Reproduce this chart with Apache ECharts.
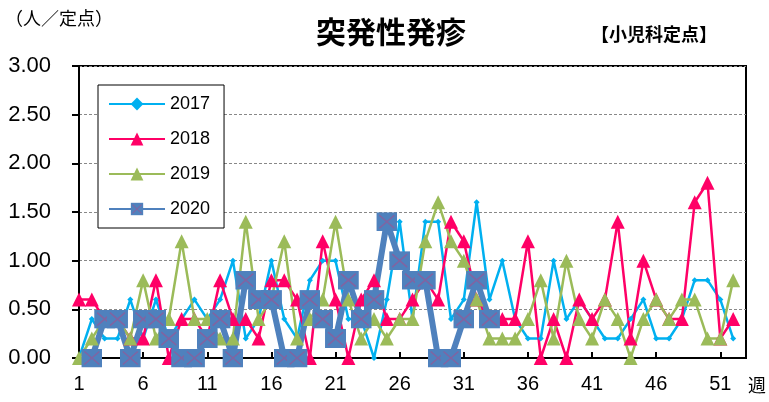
<!DOCTYPE html>
<html lang="ja">
<head>
    <meta charset="utf-8">
    <title>突発性発疹</title>
    <script src="https://cdn.jsdelivr.net/npm/echarts@6/dist/echarts.min.js"></script>
    <style>
        html, body { margin: 0; padding: 0; background: #fff; }
        #main { width: 769px; height: 402px; }
    </style>
</head>
<body>
<div id="main"></div>
<script>
    // 週（1〜53）
    var weeks = [];
    for (var i = 1; i <= 53; i++) weeks.push(String(i));

    var y2017 = [0, 0.4, 0.2, 0.2, 0.6, 0.2, 0.6, 0.2, 0.4, 0.6, 0.4, 0.6, 1.0, 0.2, 0.4, 1.0, 0.4, 0.2, 0.8, 1.0,
        1.0, 0.4, 0.4, 0, 0.6, 1.4, 0.4, 1.4, 1.4, 0.4, 0.6, 1.6, 0.6, 1.0, 0.4, 0.2, 0.2, 1.0, 0.4, 0.6,
        0.4, 0.2, 0.2, 0.4, 0.6, 0.2, 0.2, 0.4, 0.8, 0.8, 0.6, 0.2];
    var y2018 = [0.6, 0.6, 0.4, 0.4, 0.2, 0.2, 0.8, 0, 0.4, 0.4, 0.2, 0.8, 0.4, 0.4, 0.2, 0.8, 0.8, 0.6, 0, 1.2,
        0.6, 0, 0.6, 0.8, 0.4, 0.4, 0.6, 0.8, 0.6, 1.4, 1.2, 0.6, 0.4, 0.4, 0.4, 1.2, 0, 0.4, 0, 0.6,
        0.4, 0.6, 1.4, 0.2, 1.0, 0.6, 0.4, 0.4, 1.6, 1.8, 0.2, 0.4];
    var y2019 = [0, 0.2, 0.4, 0.4, 0.2, 0.8, 0.2, 0.4, 1.2, 0.4, 0.4, 0.2, 0.2, 1.4, 0.4, 0.6, 1.2, 0.2, 0.4, 0.6,
        1.4, 0.6, 0.2, 0.4, 0.2, 0.4, 0.4, 1.2, 1.6, 1.2, 1.0, 0.6, 0.2, 0.2, 0.2, 0.4, 0.8, 0.2, 1.0, 0.4,
        0.2, 0.6, 0.4, 0, 0.4, 0.6, 0.4, 0.6, 0.6, 0.2, 0.2, 0.8];
    var y2020 = [null, 0, 0.4, 0.4, 0, 0.4, 0.4, 0.2, 0, 0, 0.2, 0.4, 0, 0.8, 0.6, 0.6, 0, 0, 0.6, 0.4,
        0.2, 0.8, 0.4, 0.6, 1.4, 1.0, 0.8, 0.8, 0, 0, 0.4, 0.8, 0.4];

    var yTicks = [0, 0.5, 1, 1.5, 2, 2.5, 3];

    // 2020 marker: blue square with purple cross
    var sq = "<svg xmlns='http://www.w3.org/2000/svg' width='21' height='19'>" +
        "<rect width='21' height='19' fill='#4F81BD'/>" +
        "<path d='M3 3L18 16M18 3L3 16' stroke='#8064A2' stroke-width='1.6'/></svg>";
    var sqSymbol = 'image://data:image/svg+xml;charset=utf-8,' + encodeURIComponent(sq);

    var numFont = 'Liberation Sans, Arial, sans-serif';
    var jpFont = 'Noto Sans CJK JP, sans-serif';

    var myChart = echarts.init(document.getElementById('main'), null, {renderer: 'canvas'});

    var option = {
        backgroundColor: '#fff',
        animation: false,
        title: [{
            text: '突発性発疹',
            left: 386,
            top: 12,
            textAlign: 'center',
            textStyle: {fontFamily: jpFont, fontSize: 30, fontWeight: 'bold', color: '#000'}
        }, {
            text: '（人／定点）',
            left: 0,
            top: 4,
            textStyle: {fontFamily: jpFont, fontSize: 18, fontWeight: 'normal', color: '#000'}
        }, {
            text: '【小児科定点】',
            left: 586,
            top: 20,
            textStyle: {fontFamily: jpFont, fontSize: 18, fontWeight: 'bold', color: '#000'}
        }],
        legend: {
            orient: 'vertical',
            left: 98,
            top: 85,
            width: 142,
            padding: [10, 14, 10, 10],
            itemGap: 17,
            itemWidth: 56,
            itemHeight: 16,
            backgroundColor: '#fff',
            borderColor: '#000',
            borderWidth: 1,
            textStyle: {fontFamily: numFont, fontSize: 18, color: '#000'},
            data: ['2017', '2018', '2019', '2020']
        },
        grid: {
            left: 79,
            right: 16,
            top: 66,
            bottom: 44,
            show: true,
            borderColor: '#000',
            borderWidth: 2,
            containLabel: false
        },
        xAxis: {
            type: 'category',
            data: weeks,
            boundaryGap: false,
            name: '週',
            nameLocation: 'end',
            nameGap: 2,
            nameTextStyle: {fontFamily: jpFont, fontSize: 18, color: '#000', verticalAlign: 'top', padding: [18, 0, 0, 0]},
            axisLine: {lineStyle: {color: '#000', width: 2}},
            axisTick: {
                inside: true, length: 6,
                interval: function (idx) { return idx % 5 === 0; },
                lineStyle: {color: '#000', width: 2}
            },
            axisLabel: {
                interval: function (idx) { return idx % 5 === 0 && idx <= 50; },
                fontFamily: numFont, fontSize: 20, color: '#000', margin: 16
            },
            splitLine: {show: false}
        },
        yAxis: {
            type: 'value',
            min: yTicks[0],
            max: yTicks[yTicks.length - 1],
            interval: 0.5,
            axisLine: {show: true, lineStyle: {color: '#000', width: 2}},
            axisTick: {show: true, length: 7, lineStyle: {color: '#000', width: 2}},
            axisLabel: {
                fontFamily: numFont, fontSize: 22, color: '#000', margin: 28,
                formatter: function (v) { return v.toFixed(2); }
            },
            splitLine: {lineStyle: {color: '#888', type: [3, 2], width: 1}}
        },
        series: [{
            name: '2017',
            type: 'line',
            data: y2017,
            showAllSymbol: true,
            symbol: 'diamond',
            symbolSize: 6,
            color: '#00B0F0',
            lineStyle: {width: 2.5, color: '#00B0F0'},
            itemStyle: {color: '#00B0F0'}
        }, {
            name: '2018',
            type: 'line',
            data: y2018,
            showAllSymbol: true,
            symbol: 'triangle',
            symbolSize: [14, 14],
            color: '#FF0066',
            lineStyle: {width: 2.5, color: '#FF0066'},
            itemStyle: {color: '#FF0066'}
        }, {
            name: '2019',
            type: 'line',
            data: y2019,
            showAllSymbol: true,
            symbol: 'triangle',
            symbolSize: [14, 14],
            color: '#9BBB59',
            lineStyle: {width: 2.5, color: '#9BBB59'},
            itemStyle: {color: '#9BBB59'}
        }, {
            name: '2020',
            type: 'line',
            data: y2020,
            showAllSymbol: true,
            symbol: sqSymbol,
            symbolSize: [21, 19],
            color: '#4F81BD',
            lineStyle: {width: 6, color: '#4F81BD'},
            itemStyle: {color: '#4F81BD'}
        }]
    };
    myChart.setOption(option);
</script>
</body>
</html>
